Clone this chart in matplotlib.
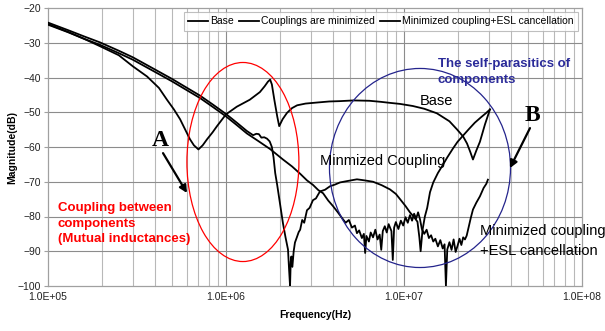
import matplotlib
matplotlib.use("Agg")
import matplotlib.pyplot as plt
from matplotlib.patches import Ellipse
from matplotlib.ticker import FixedLocator, FuncFormatter, NullFormatter

plt.rcParams['font.family'] = ['Liberation Sans', 'DejaVu Sans']

# ---------------- data ----------------
base_f = [1.0e5, 1.3e5, 1.6e5, 1.96e5, 2.5e5, 3.0e5, 3.6e5, 4.2e5, 4.66e5, 5.1e5, 5.52e5, 5.9e5,
          6.28e5, 6.6e5, 7.0e5, 7.4e5, 7.82e5, 8.4e5, 8.9e5, 1.0e6, 1.15e6, 1.36e6, 1.55e6, 1.65e6,
          1.72e6, 1.77e6, 1.81e6, 1.87e6, 1.94e6, 1.99e6, 2.08e6, 2.2e6, 2.35e6, 2.51e6, 2.8e6,
          3.25e6, 3.8e6, 4.37e6, 5.2e6, 6.4e6, 7.4e6, 8.34e6, 9.5e6, 1.12e7, 1.3e7, 1.53e7, 1.8e7,
          1.99e7, 2.15e7, 2.26e7, 2.36e7, 2.44e7, 2.55e7, 2.67e7, 2.85e7, 3.04e7]
base_db = [-24.6, -26.9, -28.9, -31.0, -33.6, -36.8, -39.7, -43.0, -46.4, -49.2, -52.0, -55.0,
           -57.8, -59.5, -60.7, -59.5, -57.8, -55.8, -54.0, -50.6, -48.4, -46.4, -44.2, -42.5,
           -41.2, -40.6, -42.0, -46.5, -51.2, -54.0, -52.0, -50.2, -48.8, -48.0, -47.5,
           -47.2, -46.9, -46.8, -46.6, -46.7, -47.0, -47.3, -47.6, -48.2, -49.0, -50.3, -52.6,
           -55.0, -57.0, -59.0, -61.5, -63.6, -61.0, -58.5, -53.5, -49.2]

mc_f = [1.0e5, 1.3e5, 1.6e5, 1.96e5, 2.5e5, 3.0e5, 3.74e5, 4.97e5, 6.0e5, 7.14e5, 8.5e5, 1.0e6,
        1.15e6, 1.31e6, 1.42e6, 1.48e6, 1.53e6, 1.58e6, 1.64e6, 1.7e6, 1.76e6, 1.81e6, 1.85e6,
        1.89e6, 1.94e6, 2.0e6, 2.09e6, 2.16e6, 2.23e6, 2.26e6, 2.29e6, 2.31e6, 2.33e6, 2.36e6,
        2.4e6, 2.44e6, 2.5e6, 2.56e6, 2.61e6, 2.68e6, 2.75e6, 2.85e6, 2.95e6, 3.08e6, 3.2e6,
        3.37e6, 3.6e6, 3.84e6, 4.1e6, 4.37e6, 4.8e6, 5.44e6, 6.0e6, 6.7e6, 7.5e6, 8.34e6, 9.0e6,
        9.5e6, 1.02e7, 1.08e7, 1.14e7, 1.19e7, 1.22e7, 1.24e7, 1.27e7, 1.31e7, 1.35e7, 1.4e7,
        1.46e7, 1.55e7, 1.66e7, 1.75e7, 1.88e7, 2.0e7, 2.14e7, 2.3e7, 2.5e7, 2.7e7, 2.88e7, 3.04e7]
mc_db = [-24.2, -26.4, -28.2, -29.9, -32.3, -34.2, -36.9, -40.4, -42.9, -45.2, -47.9, -50.5,
         -53.0, -55.4, -56.6, -56.2, -56.3, -57.3, -57.2, -57.6, -58.4, -60.0, -63.0,
         -67.5, -71.0, -75.5, -82.0, -86.0, -89.5, -95.0, -100.0, -93.0, -91.5, -94.5,
         -90.0, -87.5, -86.0, -84.5, -83.8, -81.0, -81.8, -78.2, -77.5, -75.3, -74.8,
         -72.8, -72.3, -71.3, -70.8, -70.2, -69.8, -69.3, -69.6, -70.0, -71.0, -72.2, -73.5,
         -75.0, -77.0, -78.8, -80.2, -81.5, -86.0, -90.0, -84.0, -80.0, -77.5, -73.0,
         -70.2, -67.5, -65.0, -63.0, -60.5, -58.5, -56.8, -55.0, -53.0, -51.5, -50.3, -49.2]

esl_f = [1.0e5, 1.3e5, 1.6e5, 1.96e5, 2.5e5, 3.0e5, 3.74e5, 4.97e5, 6.0e5, 7.14e5, 8.5e5, 1.0e6,
         1.15e6, 1.31e6, 1.51e6, 1.77e6, 2.09e6, 2.35e6, 2.61e6, 2.85e6, 3.08e6, 3.3e6, 3.51e6,
         3.75e6, 3.99e6, 4.25e6, 4.54e6, 4.7e6, 4.9e6, 5.1e6, 5.3e6, 5.44e6, 5.6e6, 5.8e6, 5.95e6,
         6.05e6, 6.15e6, 6.35e6, 6.5e6, 6.7e6, 6.9e6, 7.1e6, 7.3e6, 7.45e6, 7.6e6, 7.8e6, 8.0e6,
         8.2e6, 8.5e6, 8.65e6, 8.8e6, 9.0e6, 9.3e6, 9.6e6, 9.9e6, 1.02e7, 1.05e7, 1.08e7, 1.11e7,
         1.14e7, 1.17e7, 1.2e7, 1.23e7, 1.26e7, 1.3e7, 1.34e7, 1.38e7, 1.42e7, 1.46e7, 1.5e7,
         1.55e7, 1.6e7, 1.65e7, 1.69e7, 1.72e7, 1.75e7, 1.8e7, 1.85e7, 1.9e7, 1.95e7, 2.0e7,
         2.05e7, 2.1e7, 2.15e7, 2.2e7, 2.25e7, 2.3e7, 2.37e7, 2.44e7, 2.55e7, 2.67e7, 2.8e7,
         2.9e7, 2.96e7]
esl_db = [-24.8, -27.0, -28.9, -30.6, -33.0, -34.9, -37.6, -41.1, -43.6, -45.9, -48.6, -51.2,
          -53.7, -56.1, -58.2, -60.6, -63.6, -65.6, -67.7, -69.6, -70.9, -72.4, -73.3,
          -75.4, -77.0, -78.8, -80.8, -81.8, -81.0, -83.2, -82.6, -84.8, -84.0, -86.2, -85.0,
          -90.5, -85.6, -87.2, -84.6, -86.0, -83.8, -86.6, -85.2, -89.6, -84.2, -82.8, -84.6,
          -82.2, -84.2, -92.5, -83.2, -81.6, -83.6, -81.2, -82.6, -80.2, -81.8, -79.6, -81.2,
          -79.2, -80.6, -78.8, -80.8, -83.6, -85.0, -83.8, -86.2, -85.4, -87.2, -86.4,
          -88.6, -86.8, -89.2, -88.0, -100.0, -89.5, -87.4, -89.6, -86.6, -90.2, -88.4,
          -86.4, -88.2, -86.0, -86.6, -85.5, -83.4, -80.5, -78.0, -76.0, -74.2, -71.8,
          -70.6, -69.4]

series_names = ["Base", "Couplings are minimized", "Minimized coupling+ESL cancellation"]
y_ticks = [-100, -90, -80, -70, -60, -50, -40, -30, -20]
x_major = [1e5, 1e6, 1e7, 1e8]

# ---------------- figure ----------------
fig = plt.figure(figsize=(6.05, 3.31), dpi=100)
ax = fig.add_axes([48/605, 45/331, 534/605, 278/331])

ax.set_xscale('log')
ax.set_xlim(1e5, 1e8)
ax.set_ylim(-100, -20)

minor = [m * 10**e for e in (5, 6, 7) for m in range(2, 10)]
for xv in minor:
    ax.axvline(xv, color='#b8b8b8', lw=0.8, zorder=0)
for xv in x_major[1:-1]:
    ax.axvline(xv, color='#8c8c8c', lw=0.8, zorder=0)
for yv in y_ticks[1:-1]:
    ax.axhline(yv, color='#8c8c8c', lw=0.8, zorder=0)

for sp in ax.spines.values():
    sp.set_color('#a0a0a0')
    sp.set_linewidth(0.9)

ax.xaxis.set_major_locator(FixedLocator(x_major))
ax.xaxis.set_minor_locator(FixedLocator(minor))
ax.xaxis.set_minor_formatter(NullFormatter())
ax.xaxis.set_major_formatter(FuncFormatter(lambda v, p: f"{v:.1E}"))
ax.set_yticks(y_ticks)
ax.tick_params(axis='x', which='both', length=0, pad=4, labelsize=7.5, labelcolor='#222222')
ax.tick_params(axis='y', length=3, width=0.8, color='#a0a0a0', pad=2, labelsize=7.5,
               labelcolor='#222222')

lw = 1.3
ax.plot(base_f, base_db, color='black', lw=lw, label=series_names[0], zorder=3)
ax.plot(mc_f, mc_db, color='black', lw=lw, label=series_names[1], zorder=3)
ax.plot(esl_f, esl_db, color='black', lw=lw, label=series_names[2], zorder=3)

ax.set_xlabel("Frequency(Hz)", fontsize=7.5, fontweight='bold', labelpad=6)
ax.set_ylabel("Magnitude(dB)", fontsize=7.5, fontweight='bold', labelpad=0.5)

leg = ax.legend(loc='upper right', ncol=3, fontsize=7.5, frameon=True, fancybox=False,
                borderaxespad=0.35, handlelength=1.9, handletextpad=0.2, columnspacing=0.5,
                borderpad=0.45)
leg.get_frame().set_edgecolor('#b0b0b0')
leg.get_frame().set_linewidth(0.8)

# ellipses
ax.add_patch(Ellipse((0.365, 0.446), 0.2097, 0.716, transform=ax.transAxes, fill=False,
                     edgecolor='red', lw=0.9, zorder=4))
ax.add_patch(Ellipse((0.6966, 0.4245), 0.339, 0.716, transform=ax.transAxes, fill=False,
                     edgecolor='#24248c', lw=0.9, zorder=4))

# A / B annotations
ax.text(0.2097, 0.522, "A", transform=ax.transAxes, ha='center', va='center',
        fontsize=17, fontweight='bold', family='Liberation Serif', zorder=5)
ax.annotate("", xy=(0.2603, 0.3345), xytext=(0.2154, 0.478), xycoords='axes fraction',
            arrowprops=dict(arrowstyle='-|>', color='black', lw=1.6, mutation_scale=11,
                            shrinkA=0, shrinkB=0), zorder=5)
ax.text(0.908, 0.612, "B", transform=ax.transAxes, ha='center', va='center',
        fontsize=17, fontweight='bold', family='Liberation Serif', zorder=5)
ax.annotate("", xy=(0.865, 0.424), xytext=(0.9026, 0.568), xycoords='axes fraction',
            arrowprops=dict(arrowstyle='-|>', color='black', lw=1.6, mutation_scale=11,
                            shrinkA=0, shrinkB=0), zorder=5)

# red text
for txt, yy in zip(["Coupling between", "components", "(Mutual inductances)"],
                   [0.270, 0.214, 0.158]):
    ax.text(0.0187, yy, txt, transform=ax.transAxes, ha='left', va='baseline',
            color='red', fontsize=9.5, fontweight='bold', zorder=5)

# blue text
for txt, yy in zip(["The self-parasitics of", "components"], [0.788, 0.730]):
    ax.text(0.730, yy, txt, transform=ax.transAxes, ha='left', va='baseline',
            color='#2b2b99', fontsize=9.5, fontweight='bold', zorder=5)

# curve labels
ax.text(0.6966, 0.651, "Base", transform=ax.transAxes, ha='left', va='baseline',
        fontsize=10.5, zorder=5)
ax.text(0.509, 0.435, "Minmized Coupling", transform=ax.transAxes, ha='left', va='baseline',
        fontsize=10.5, zorder=5)
ax.text(0.809, 0.183, "Minimized coupling", transform=ax.transAxes, ha='left', va='baseline',
        fontsize=10.5, zorder=5, clip_on=False)
ax.text(0.809, 0.1115, "+ESL cancellation", transform=ax.transAxes, ha='left', va='baseline',
        fontsize=10.5, zorder=5, clip_on=False)

fig.savefig("out.png", dpi=100)
